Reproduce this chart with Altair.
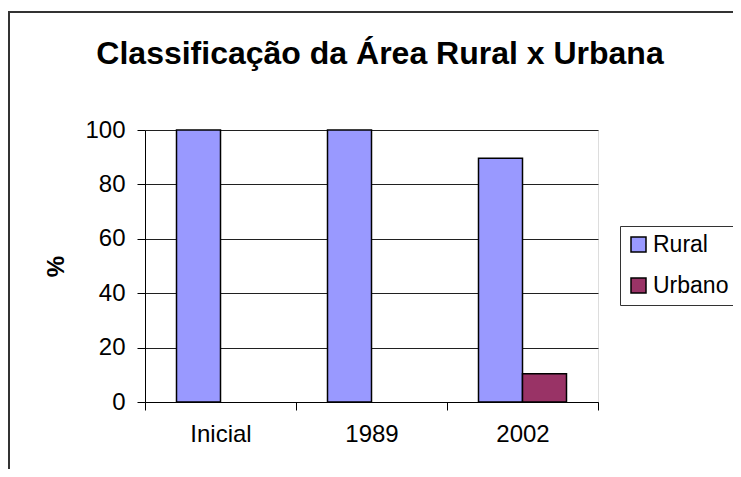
import altair as alt
import pandas as pd

periods = ["Inicial", "1989", "2002"]
series = ["Rural", "Urbano"]
rural = [100, 100, 89.6]
urbano = [0, 0, 10.4]
colors = ["#9999FF", "#993366"]
y_ticks = [0, 20, 40, 60, 80, 100]
title_text = "Classificação da Área Rural x Urbana"

rows = []
for p, r, u in zip(periods, rural, urbano):
    rows.append({"Periodo": p, "Serie": "Rural", "Valor": r})
    rows.append({"Periodo": p, "Serie": "Urbano", "Valor": u})
df = pd.DataFrame(rows)

FONT = "Liberation Sans"

bars = alt.Chart(df).mark_bar(stroke="black").encode(
    x=alt.X(
        "Periodo:N",
        sort=periods,
        scale=alt.Scale(paddingInner=0, paddingOuter=0),
        axis=alt.Axis(
            title=None, labelAngle=0, tickBand="extent", tickSize=8,
            labelPadding=12, labelFontSize=24, labelFont=FONT, labelColor="black",
            domainColor="black", tickColor="black", grid=False,
        ),
    ),
    xOffset=alt.XOffset(
        "Serie:N", sort=series,
        scale=alt.Scale(paddingInner=0, paddingOuter=0.716),
    ),
    y=alt.Y(
        "Valor:Q",
        scale=alt.Scale(domain=[0, 100], nice=False),
        axis=alt.Axis(
            title="%", values=y_ticks, tickSize=8, labelPadding=12,
            labelFontSize=24, labelFont=FONT, labelColor="black",
            titleFont=FONT, titleFontSize=24, titleFontWeight="bold",
            titleColor="black", titlePadding=16,
            domainColor="black", tickColor="black",
            grid=True, gridColor="#202020", gridWidth=1, gridOpacity=1,
        ),
    ),
    strokeWidth=alt.condition("datum.Valor > 0", alt.value(1.5), alt.value(0)),
    color=alt.Color(
        "Serie:N",
        sort=series,
        scale=alt.Scale(domain=series, range=colors),
        legend=alt.Legend(
            title=None, orient="none", legendX=475, legendY=96,
            strokeColor="#333333", fillColor="white", padding=7,
            labelFontSize=23, labelFont=FONT, labelColor="black",
            symbolType="square", symbolSize=225,
            symbolStrokeColor="black", symbolStrokeWidth=1.5,
            rowPadding=17, labelOffset=3,
        ),
    ),
)

frame_left = alt.Chart(alt.Data(values=[{}])).mark_rule(
    color="#333333", strokeWidth=2
).encode(x=alt.value(-136), y=alt.value(-118), y2=alt.value(480))

frame_top = alt.Chart(alt.Data(values=[{}])).mark_rule(
    color="#333333", strokeWidth=2
).encode(x=alt.value(-137), x2=alt.value(700), y=alt.value(-118))

title = alt.Chart(alt.Data(values=[{"t": title_text}])).mark_text(
    font=FONT, fontSize=32, fontWeight="bold", color="black",
    align="center", baseline="alphabetic",
).encode(text="t:N", x=alt.value(235), y=alt.value(-66))

chart = alt.layer(frame_left, frame_top, title, bars).properties(
    width=453,
    height=272,
    autosize=alt.AutoSizeParams(type="none"),
    padding={"left": 137, "top": 122, "right": 135, "bottom": 67},
).configure_view(
    fill="#C0C0C0", stroke="#808080", strokeWidth=2
).configure(background="white")

chart.save("out.html", embed_options={"renderer": "svg", "actions": False})
